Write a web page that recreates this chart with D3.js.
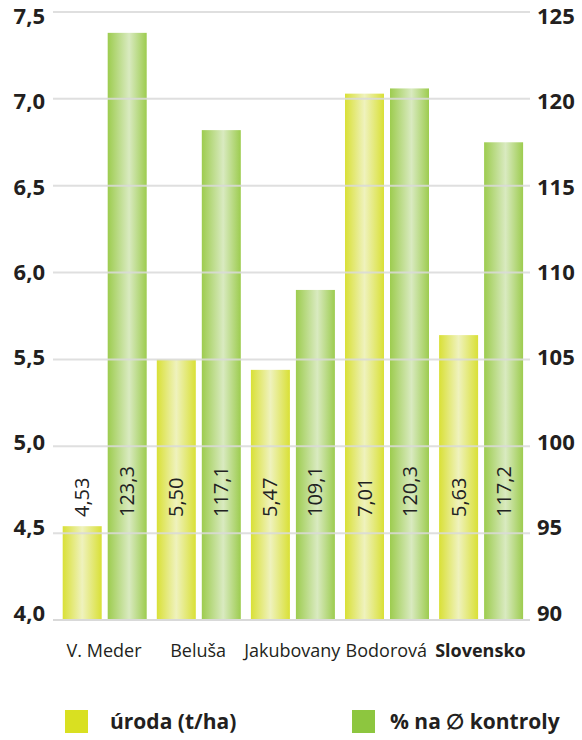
<!DOCTYPE html>
<html><head><meta charset="utf-8">
<script src="https://cdn.jsdelivr.net/npm/d3@7"></script>
<style>body{margin:0;background:#fff}svg{display:block}</style>
</head><body>
<svg id="c" width="582" height="740"></svg>
<script>
const categories = ["V. Meder","Beluša","Jakubovany","Bodorová","Slovensko"];
const yieldValues = [4.54, 5.50, 5.44, 7.03, 5.64];
const yieldLabels = ["4,53","5,50","5,47","7,01","5,63"];
const pctValues = [123.8, 118.2, 109.0, 120.6, 117.5];
const pctLabels = ["123,3","117,1","109,1","120,3","117,2"];
const leftTicks = [4.0,4.5,5.0,5.5,6.0,6.5,7.0,7.5];
const leftTickLabels = ["4,0","4,5","5,0","5,5","6,0","6,5","7,0","7,5"];
const rightTicks = [90,95,100,105,110,115,120,125];
const seriesNames = ["úroda (t/ha)","% na ∅ kontroly"];

const svg = d3.select("#c");
const F = "'Open Sans', sans-serif";
const defs = svg.append("defs");
function grad(id, stops){
  const g = defs.append("linearGradient").attr("id",id).attr("x1","0").attr("x2","1").attr("y1","0").attr("y2","0");
  stops.forEach(s=>g.append("stop").attr("offset",s[0]).attr("stop-color",s[1]));
}
grad("gy",[[0,"#d9e036"],[0.5,"#eff2bd"],[1,"#d9e036"]]);
grad("gg",[[0,"#9dcc4f"],[0.55,"#d9eac0"],[1,"#9dcc4f"]]);

const gridL = 53, gridR = 530;
const yL = d3.scaleLinear().domain([4,7.5]).range([620,12]);
const yR = d3.scaleLinear().domain([90,125]).range([620,12]);
const yLab = d3.scaleLinear().domain([4,7.5]).range([613,16.5]);
const yLabR = d3.scaleLinear().domain([90,125]).range([613,16.5]);
const x0 = d3.scaleBand().domain(categories).range([58,528.5]).padding(0);
const x1 = d3.scaleBand().domain(["y","g"]).range([4.7,88.7]).paddingInner(6/45).paddingOuter(0);

// bars
const grp = svg.append("g").selectAll("g").data(categories).join("g")
  .attr("transform",d=>`translate(${x0(d)},0)`);
grp.append("rect").attr("x",x1("y")).attr("width",x1.bandwidth())
  .attr("y",(d,i)=>yL(yieldValues[i])).attr("height",(d,i)=>620-yL(yieldValues[i]))
  .attr("fill","url(#gy)");
grp.append("rect").attr("x",x1("g")).attr("width",x1.bandwidth())
  .attr("y",(d,i)=>yR(pctValues[i])).attr("height",(d,i)=>620-yR(pctValues[i]))
  .attr("fill","url(#gg)");

// gridlines on top
svg.append("g").selectAll("line").data(leftTicks).join("line")
  .attr("x1",gridL).attr("x2",gridR).attr("y1",d=>yL(d)).attr("y2",d=>yL(d))
  .attr("stroke","#d9d9d9").attr("stroke-opacity",d=>d===4?1:0.85).attr("stroke-width",2);

// value labels
function vlab(key, labels){
  grp.append("text")
    .attr("transform",d=>`translate(${x1(key)+x1.bandwidth()/2},517) rotate(-90)`)
    .attr("dy","0.35em").attr("text-anchor","start")
    .attr("font-family",F).attr("font-size",20).attr("fill","#222")
    .text((d,i)=>labels[i]);
}
vlab("y", yieldLabels);
vlab("g", pctLabels);

// left axis labels
svg.append("g").selectAll("text").data(leftTicks).join("text")
  .attr("x",45).attr("y",d=>yLab(d)).attr("dy","0.35em").attr("text-anchor","end")
  .attr("font-family",F).attr("font-weight","bold").attr("font-size",22).attr("fill","#231f20")
  .text((d,i)=>leftTickLabels[i]);
// right axis labels
svg.append("g").selectAll("text").data(rightTicks).join("text")
  .attr("x",537).attr("y",d=>yLabR(d)).attr("dy","0.35em").attr("text-anchor","start")
  .attr("font-family",F).attr("font-weight","bold").attr("font-size",22).attr("fill","#231f20")
  .text(d=>d);

// category labels
svg.append("g").selectAll("text").data(categories).join("text")
  .attr("x",d=>x0(d)+x0.bandwidth()/2-1).attr("y",657).attr("text-anchor","middle")
  .attr("font-family",F).attr("font-size",18).attr("fill","#231f20")
  .attr("font-weight",(d,i)=>i===categories.length-1?"bold":"normal")
  .text(d=>d);

// legend
const leg = [{x:65,c:"#d9e021",t:seriesNames[0],tx:110},{x:352,c:"#8dc63f",t:seriesNames[1],tx:390}];
leg.forEach(l=>{
  svg.append("rect").attr("x",l.x).attr("y",710).attr("width",23).attr("height",23).attr("fill",l.c);
  svg.append("text").attr("x",l.tx).attr("y",729).attr("font-family",F).attr("font-weight","bold")
    .attr("font-size",21).attr("fill","#231f20").text(l.t);
});
</script>
</body></html>
